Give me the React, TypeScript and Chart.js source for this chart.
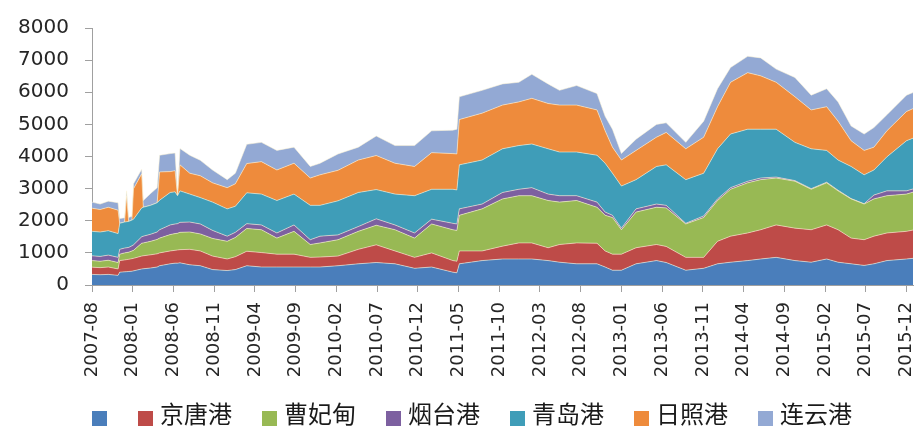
import React, { useEffect, useRef } from "react";
import { Chart, registerables } from "chart.js";

Chart.register(...registerables);

// month offsets from 2007-08 (0) to 2015-12 (100)
const monthPos = [0, 1, 2, 3.2, 3.4, 4.0, 4.25, 4.5, 4.9, 5.1, 6.1, 6.3, 7.2, 8.0, 8.3, 9.6, 10.2, 10.5, 10.8, 12, 13.3, 14.8, 16.6, 17.6, 19, 20.8, 22.7, 24.8, 26.8, 28, 30.2, 32.7, 34.9, 37.2, 39.6, 41.7, 44.3, 44.8, 45.1, 47.9, 50.4, 52.4, 54, 56, 57.4, 59.5, 62, 63, 63.9, 65, 66.8, 69.3, 70.5, 72.9, 75.1, 76.8, 78.4, 80.5, 82.1, 84, 86.3, 88.3, 90.2, 91.6, 93.2, 94.8, 96, 97.6, 100, 100.8];

const tickLabels = ["2007-08", "2008-01", "2008-06", "2008-11", "2009-04", "2009-09", "2010-02", "2010-07", "2010-12", "2011-05", "2011-10", "2012-03", "2012-08", "2013-01", "2013-06", "2013-11", "2014-04", "2014-09", "2015-02", "2015-07", "2015-12"];

const seriesNames = ["", "京唐港", "曹妃甸", "烟台港", "青岛港", "日照港", "连云港"];

const blueSeries = [330, 320, 330, 300, 400, 410, 415, 420, 430, 440, 500, 505, 530, 560, 600, 660, 680, 680, 690, 630, 600, 480, 450, 480, 600, 560, 560, 560, 560, 560, 600, 660, 700, 660, 520, 560, 400, 380, 660, 760, 810, 810, 810, 760, 710, 660, 660, 560, 460, 460, 660, 760, 700, 460, 520, 660, 710, 760, 810, 860, 760, 710, 810, 710, 660, 610, 660, 760, 810, 830];
const jingtang = [225, 220, 230, 200, 360, 370, 375, 380, 390, 390, 400, 405, 410, 410, 400, 400, 400, 410, 410, 480, 460, 420, 360, 400, 450, 450, 400, 400, 300, 310, 300, 450, 550, 400, 340, 440, 360, 360, 400, 300, 400, 500, 500, 400, 550, 650, 640, 500, 500, 500, 500, 500, 500, 400, 340, 700, 810, 860, 910, 1010, 1010, 1010, 1060, 1010, 800, 800, 860, 860, 860, 880];
const caofeidian = [205, 200, 210, 200, 200, 220, 220, 220, 240, 250, 400, 400, 420, 450, 460, 510, 520, 520, 540, 540, 530, 550, 550, 600, 710, 710, 500, 710, 400, 440, 510, 560, 610, 660, 600, 900, 960, 960, 1110, 1310, 1470, 1470, 1470, 1470, 1320, 1320, 1120, 1110, 1140, 760, 1110, 1160, 1200, 1040, 1240, 1270, 1460, 1560, 1560, 1460, 1460, 1260, 1310, 1210, 1220, 1110, 1160, 1160, 1160, 1180];
const yantai = [150, 150, 160, 160, 150, 150, 150, 150, 160, 170, 200, 210, 220, 230, 260, 300, 300, 300, 310, 310, 310, 250, 160, 160, 150, 150, 160, 200, 150, 210, 150, 150, 200, 150, 160, 150, 200, 200, 200, 150, 200, 200, 250, 200, 200, 150, 160, 100, 70, 50, 100, 100, 80, 20, 50, 50, 50, 50, 50, 30, 20, 20, 20, 20, 10, 10, 120, 150, 100, 100];
const qingdao = [760, 760, 760, 740, 810, 810, 810, 810, 800, 800, 900, 900, 900, 910, 920, 1010, 1000, 870, 980, 870, 820, 880, 850, 810, 960, 960, 1010, 960, 1070, 960, 1060, 1060, 910, 960, 1160, 930, 1060, 1060, 1370, 1370, 1360, 1360, 1360, 1410, 1360, 1360, 1460, 1520, 1310, 1310, 910, 1170, 1260, 1360, 1330, 1560, 1670, 1620, 1520, 1490, 1190, 1240, 990, 940, 1000, 900, 780, 1060, 1560, 1580];
const rizhao = [720, 700, 730, 730, 0, 0, 810, 0, 0, 950, 1060, 0, 0, 0, 880, 650, 660, 0, 810, 650, 680, 600, 660, 700, 910, 1010, 950, 960, 850, 950, 950, 1010, 1060, 960, 910, 1140, 1110, 1120, 1410, 1460, 1360, 1360, 1420, 1410, 1460, 1460, 1410, 1010, 810, 810, 910, 910, 1010, 960, 1120, 1310, 1610, 1760, 1660, 1460, 1420, 1210, 1360, 1210, 800, 760, 710, 810, 910, 920];
const lianyungang = [190, 170, 190, 230, 150, 130, 150, 120, 120, 150, 140, 210, 370, 470, 520, 560, 550, 70, 510, 560, 480, 400, 250, 330, 600, 600, 610, 500, 360, 360, 510, 400, 610, 550, 650, 680, 730, 770, 710, 710, 660, 610, 750, 610, 460, 610, 510, 450, 560, 200, 350, 400, 300, 200, 500, 560, 460, 510, 560, 410, 600, 460, 560, 600, 460, 510, 610, 500, 510, 500];

const seriesValues = [blueSeries, jingtang, caofeidian, yantai, qingdao, rizhao, lianyungang];
const seriesColors = ["#4a7ebb", "#be4b48", "#98b954", "#7d60a0", "#3f9db8", "#ee8b3c", "#93a9d4"];

const legendPlugin = {
  id: "customLegend",
  afterDraw(chart: any) {
    const ctx = chart.ctx;
    ctx.save();
    ctx.font = '24px "Noto Sans CJK SC"';
    ctx.textBaseline = "middle";
    ctx.textAlign = "left";
    let x = chart.chartArea.left;
    const boxY = 411;
    chart.data.datasets.forEach((ds: any) => {
      ctx.fillStyle = ds.backgroundColor;
      ctx.fillRect(x, boxY, 15, 15);
      if (ds.label) {
        ctx.fillStyle = "#1a1a1a";
        ctx.fillText(ds.label, x + 22, 414);
        x += 22 + ctx.measureText(ds.label).width + 30;
      } else {
        x += 46;
      }
    });
    ctx.restore();
  },
};

export default function App() {
  const canvasRef = useRef<HTMLCanvasElement | null>(null);

  useEffect(() => {
    if (!canvasRef.current) return;
    const datasets = seriesValues.map((vals, i) => ({
      label: seriesNames[i],
      data: vals.map((v, j) => ({ x: monthPos[j], y: v })),
      backgroundColor: seriesColors[i],
      borderColor: "rgba(255,246,215,0.55)",
      borderWidth: 1,
      pointRadius: 0,
      tension: 0,
      fill: i === 0 ? "origin" : "-1",
    }));
    const chart = new Chart(canvasRef.current, {
      type: "line",
      data: { datasets },
      options: {
        animation: false,
        responsive: true,
        maintainAspectRatio: false,
        devicePixelRatio: 1,
        layout: { padding: { top: 21, right: 3, bottom: 0, left: 0 } },
        plugins: {
          legend: { display: false },
          tooltip: { enabled: false },
        },
        scales: {
          x: {
            type: "linear",
            min: 0,
            max: 100.8,
            afterBuildTicks: (scale: any) => {
              scale.ticks = tickLabels.map((_, i) => ({ value: i * 5 }));
            },
            afterFit: (scale: any) => {
              scale.height = 141;
              scale.paddingLeft = 0;
              scale.paddingRight = 0;
            },
            grid: {
              drawOnChartArea: false,
              drawTicks: true,
              tickLength: 7,
              tickColor: "#a0a0a0",
            },
            border: { display: true, color: "#a0a0a0" },
            ticks: {
              autoSkip: false,
              maxRotation: 90,
              minRotation: 90,
              padding: 10,
              color: "#262626",
              font: { family: "DejaVu Sans", size: 18 },
              callback: (value: any) => tickLabels[Math.round(Number(value) / 5)] ?? "",
            },
          },
          y: {
            stacked: true,
            min: 0,
            max: 8000,
            afterFit: (scale: any) => {
              scale.width = 92;
            },
            grid: {
              drawOnChartArea: false,
              drawTicks: true,
              tickLength: 7,
              tickColor: "#a0a0a0",
            },
            border: { display: true, color: "#a0a0a0" },
            ticks: {
              stepSize: 1000,
              padding: 16,
              color: "#262626",
              font: { family: "DejaVu Sans", size: 20 },
              callback: (value: any) => String(value),
            },
          },
        },
      },
      plugins: [legendPlugin],
    });
    return () => chart.destroy();
  }, []);

  return (
    <div style={{ position: "fixed", left: 0, top: 0, width: 916, height: 426, background: "#fff" }}>
      <canvas ref={canvasRef} />
    </div>
  );
}
